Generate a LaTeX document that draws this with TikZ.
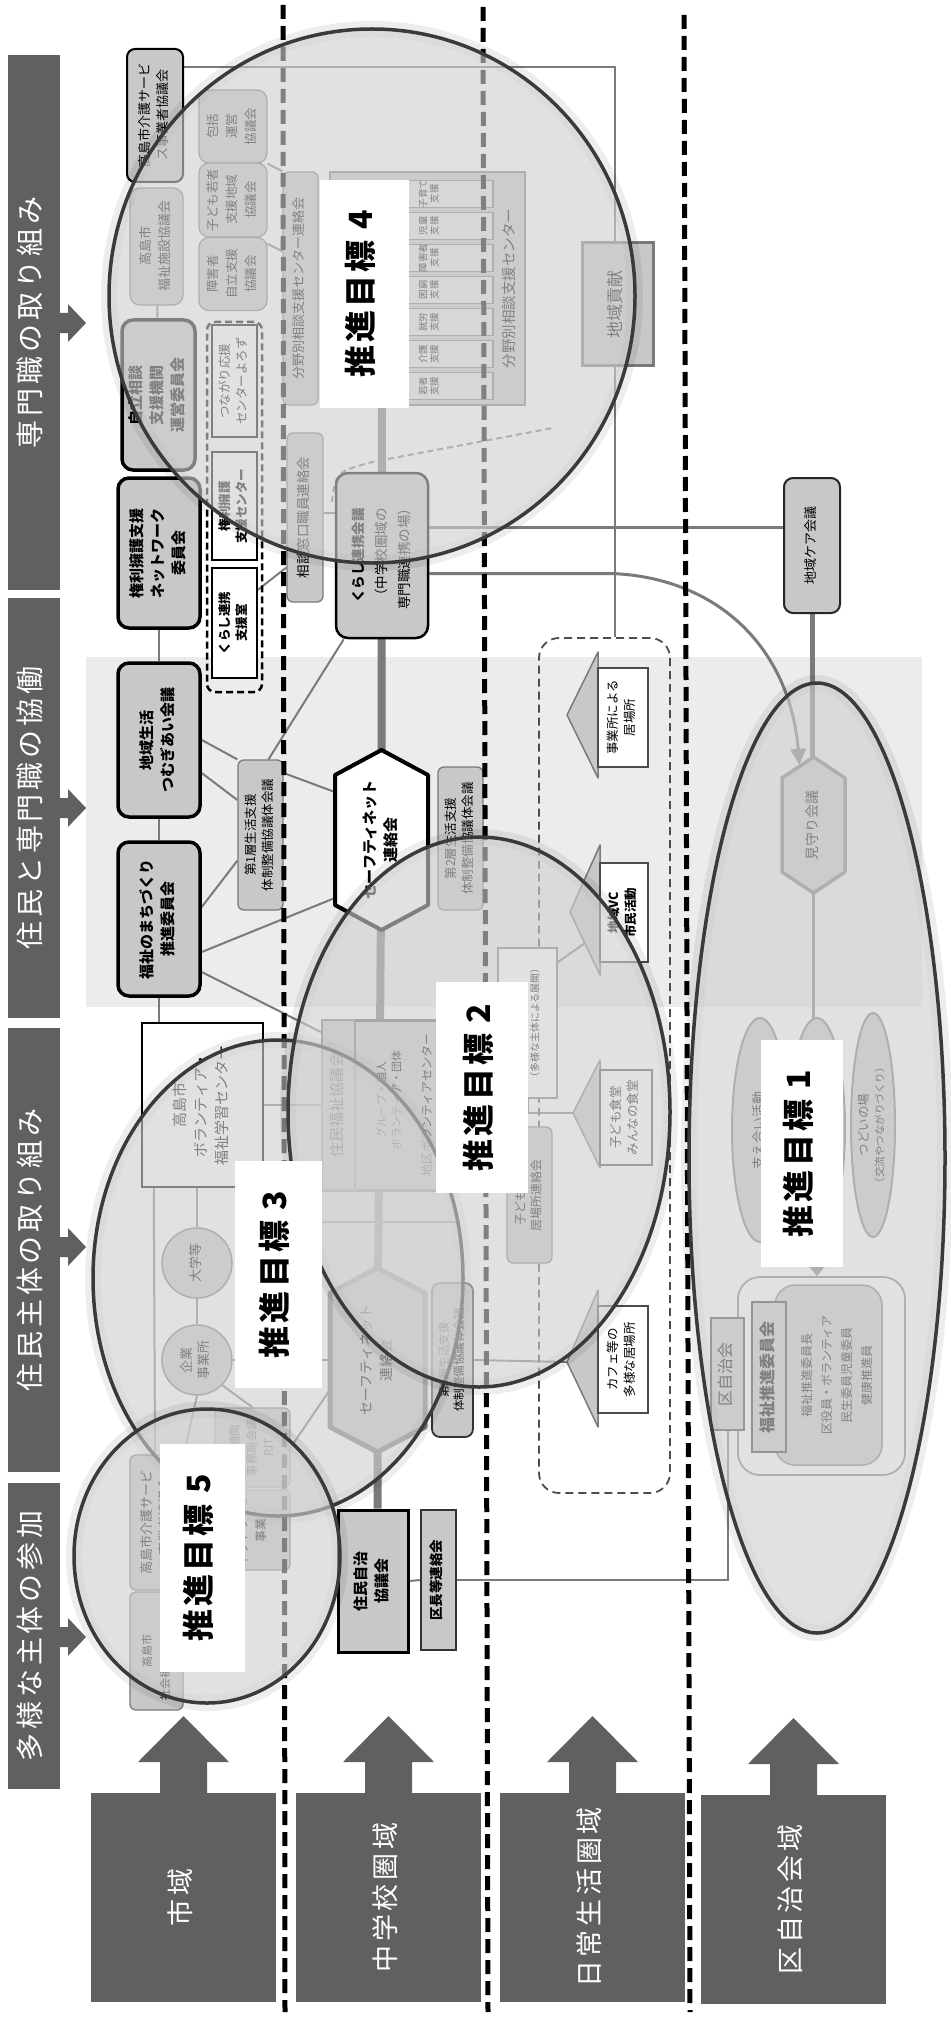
\documentclass[tikz,border=0pt]{standalone}
\usepackage{fontspec}
\usepackage{graphicx}
\setmainfont{Noto Sans CJK JP}
\newfontfamily\jpsp[LetterSpace=14]{Noto Sans CJK JP}
\newfontfamily\jplab[LetterSpace=10]{Noto Sans CJK JP}
\usetikzlibrary{shapes.geometric,calc,arrows.meta}
\pgfdeclarelayer{back}\pgfdeclarelayer{lines}\pgfdeclarelayer{ov}\pgfdeclarelayer{lab}
\pgfsetlayers{back,lines,main,ov,lab}
\definecolor{barc}{HTML}{606060}
\definecolor{nfill}{HTML}{C8C8C8}
\definecolor{lnc}{HTML}{7A7A7A}
\definecolor{bandc}{HTML}{ECECEC}
\definecolor{cfill}{HTML}{D0D0D0}
\definecolor{cdraw}{HTML}{3A3A3A}
\newcommand\rtxt[1]{\rotatebox{90}{\begin{tabular}{@{}c@{}}#1\end{tabular}}}
\newcommand\fsz[2]{\fontsize{#1}{#2}\selectfont}
\newcommand\rarr[1]{\fill[barc, shift={(0,#1)}] (59,-10) -- (68,-10) -- (68,-19) -- (86,0) -- (68,19) -- (68,10) -- (59,10) -- cycle;}
\newcommand\uarr[2]{\fill[barc, shift={(#1,#2)}] (-23.5,0) -- (-23.5,-32) -- (-45.5,-32) -- (0,-78) -- (45.5,-32) -- (23.5,-32) -- (23.5,0) -- cycle;}
\tikzset{
 barbox/.style={fill=barc, text=white, inner sep=0pt, minimum width=52pt, font=\fsz{28}{34}\jpsp},
 bbox/.style={fill=barc, text=white, inner sep=0pt, minimum width=185pt, minimum height=209pt, font=\fsz{27}{32}\jpsp},
 gb/.style={draw=lnc, fill=nfill, line width=1.3pt, rounded corners=6pt, inner sep=0pt, font=\fsz{12.5}{19}},
 kb/.style={draw=black, fill=nfill, line width=3.5pt, rounded corners=11pt, inner sep=0pt, font=\bfseries\fsz{15}{21}},
 wb/.style={draw=black, fill=white, line width=1.3pt, inner sep=0pt, font=\fsz{12.5}{17}},
 rowbox/.style={draw=lnc, fill=nfill!50!white, line width=1.2pt, minimum width=158pt, minimum height=27pt, inner sep=0pt},
 rowtxt/.style={inner sep=0pt, font=\fsz{9.5}{11}},
 ln/.style={draw=lnc, line width=2pt},
 ln2/.style={draw=lnc, line width=3pt},
 thk/.style={draw=lnc, line width=8pt},
 lbl/.style={fill=white, inner sep=0pt, font=\bfseries\fsz{32}{36}\jplab},
 reg/.style={draw=black, line width=5pt, dash pattern=on 14pt off 7pt},
 tri/.style={fill=nfill, draw=lnc, line width=1.5pt, line join=round},
 ell/.style={ellipse, draw=lnc, line width=2pt, inner sep=0pt},
 rnd/.style={circle, draw=lnc, fill=nfill, line width=1.5pt, minimum size=70pt, inner sep=0pt, font=\fsz{13}{17}},
}
\begin{document}
\begin{tikzpicture}[x=1pt,y=-1pt]
\useasboundingbox (0,0) rectangle (950,2017);
\begin{pgfonlayer}{back}
\fill[white] (0,0) rectangle (950,2017);
\fill[bandc] (86,657) rectangle (922,1007);
\end{pgfonlayer}

% left bars
\node[barbox, minimum height=535pt] (barA) at (34,322.5) {\rtxt{専門職の取り組み}};
\node[barbox, minimum height=420pt] (barB) at (34,808) {\rtxt{住民と専門職の協働}};
\node[barbox, minimum height=444pt] (barC) at (34,1250) {\rtxt{住民主体の取り組み}};
\node[barbox, minimum height=306pt] (barD) at (34,1636) {\rtxt{多様な主体の参加}};
\rarr{323}\rarr{808}\rarr{1247}\rarr{1637}

% bottom boxes
\node[bbox] (shiiki) at (183.5,1897.5) {\rtxt{市域}};
\node[bbox] (chugaku) at (388.5,1897.5) {\rtxt{中学校圏域}};
\node[bbox] (nichijo) at (592.5,1897.5) {\rtxt{日常生活圏域}};
\node[bbox] (kuiki) at (793.5,1899.5) {\rtxt{区自治会域}};
\uarr{183.5}{1794}\uarr{388.5}{1794}\uarr{592.5}{1794}\uarr{793.5}{1796}

% column 1
\node[gb, draw=black, line width=2pt, rounded corners=8pt, minimum width=56pt, minimum height=133pt, font=\fsz{13}{18}] (kaigo) at (155,115.5) {\rtxt{高島市介護サービ\\ス事業者協議会}};
\node[gb, rounded corners=10pt, minimum width=68pt, minimum height=73pt] (houkatsu) at (233,126.5) {\rtxt{包括\\運営\\協議会}};
\node[gb, rounded corners=10pt, minimum width=68pt, minimum height=74pt] (kodomo) at (233,200) {\rtxt{子ども若者\\支援地域\\協議会}};
\node[gb, rounded corners=10pt, minimum width=68pt, minimum height=73pt] (shogai) at (233,274) {\rtxt{障害者\\自立支援\\協議会}};
\node[gb, rounded corners=10pt, minimum width=53pt, minimum height=117pt, font=\fsz{13}{19}] (shisetsu) at (156.5,246.5) {\rtxt{高島市\\福祉施設協議会}};
\node[kb, minimum width=73pt, minimum height=150pt] (jiritsu) at (158.5,395) {\rtxt{自立相談\\支援機関\\運営委員会}};
\node[draw=black, line width=2.5pt, dash pattern=on 7pt off 4pt, rounded corners=8pt, minimum width=55pt, minimum height=370pt, inner sep=0pt] (dashb) at (234.5,507) {};
\node[wb, minimum width=45pt, minimum height=112pt] (tsunagari) at (234.5,381) {\rtxt{つながり応援\\センターよろず}};
\node[wb, font=\bfseries\fsz{12.5}{17}, minimum width=45pt, minimum height=108pt] (kenric) at (234.5,506) {\rtxt{権利擁護\\支援センター}};
\node[wb, font=\bfseries\fsz{12.5}{17}, minimum width=45pt, minimum height=110pt] (kurashis) at (234.5,623) {\rtxt{くらし連携\\支援室}};
\node[kb, minimum width=82pt, minimum height=150pt] (kenrin) at (159,553) {\rtxt{権利擁護支援\\ネットワーク\\委員会}};
\node[kb, minimum width=82pt, minimum height=154pt] (chiiki) at (159,740) {\rtxt{地域生活\\つむぎあい会議}};
\node[kb, minimum width=82pt, minimum height=154pt] (machi) at (159,919) {\rtxt{福祉のまちづくり\\推進委員会}};
\node[draw=black, fill=white, line width=2.5pt, inner sep=0pt, minimum width=121pt, minimum height=164pt, font=\fsz{15}{21}] (volc) at (202.5,1105) {\rtxt{高島市\\ボランティア・\\福祉学習センター}};
\node[rnd] (daigaku) at (197,1263) {\rtxt{大学等}};
\node[rnd] (kigyo) at (197,1360) {\rtxt{企業\\事業所}};
\node[gb, minimum width=75pt, minimum height=79pt, font=\fsz{11.5}{17}] (pjt) at (252.5,1447.5) {\rtxt{関係機関\\事務局会議\\PJT}};
\node[gb, minimum width=75pt, minimum height=80pt, font=\fsz{12}{18}] (netj) at (252.5,1530) {\rtxt{ネットワーク\\事業}};
\node[gb, minimum width=53pt, minimum height=135pt, font=\fsz{13}{18}] (kaigo2) at (156.5,1522.5) {\rtxt{高島市介護サービ\\ス事業者協議会}};
\node[gb, minimum width=53pt, minimum height=118pt, font=\fsz{11}{18}] (shakai) at (156.5,1651) {\rtxt{高島市\\社会福祉法人連絡会}};

% column 2
\node[gb, minimum width=35pt, minimum height=233pt, font=\fsz{13}{17}] (bunyar) at (300.5,288.5) {\rtxt{分野別相談支援センター連絡会}};
\node[draw=lnc, fill=nfill, line width=1.5pt, inner sep=0pt, minimum width=195pt, minimum height=233pt] (bunya) at (427.5,288.5) {};
\node[rowbox] (r1) at (414,194) {};
\node[rowbox] (r2) at (414,226) {};
\node[rowbox] (r3) at (414,258) {};
\node[rowbox] (r4) at (414,290) {};
\node[rowbox] (r5) at (414,322) {};
\node[rowbox] (r6) at (414,354) {};
\node[rowbox] (r7) at (414,386) {};
\node[rowtxt] (rt1) at (430,194) {\rtxt{子育て\\支援}};
\node[rowtxt] (rt2) at (430,226) {\rtxt{児童\\支援}};
\node[rowtxt] (rt3) at (430,258) {\rtxt{障害者\\支援}};
\node[rowtxt] (rt4) at (430,290) {\rtxt{困窮\\支援}};
\node[rowtxt] (rt5) at (430,322) {\rtxt{就労\\支援}};
\node[rowtxt] (rt6) at (430,354) {\rtxt{介護\\支援}};
\node[rowtxt] (rt7) at (430,386) {\rtxt{若者\\支援}};
\node[inner sep=0pt, font=\fsz{14.5}{18}] (bunyal) at (511,288.5) {\rtxt{分野別相談支援センター}};
\node[gb, minimum width=36pt, minimum height=169pt, font=\fsz{13.5}{17}] (soudan) at (305,517.5) {\rtxt{相談窓口職員連絡会}};
\node[gb, draw=black, line width=2.5pt, rounded corners=12pt, minimum width=92pt, minimum height=165pt, font=\fsz{13.5}{23}] (kurashi) at (382,555.5) {\rtxt{\textbf{くらし連携会議}\\（中学校圏域の\\専門職連携の場）}};
\filldraw[fill=white, draw=black, line width=4pt, line join=round] (381.5,750) -- (428,775) -- (428,905) -- (381.5,930) -- (335,905) -- (335,775) -- cycle;
\node[inner sep=0pt, minimum width=93pt, minimum height=180pt, font=\bfseries\fsz{15}{21}] (safe1) at (381.5,840) {\rtxt{セーフティネット\\連絡会}};
\node[gb, minimum width=45pt, minimum height=150pt, font=\fsz{12.5}{17}] (dai1) at (260.5,835) {\rtxt{第1層生活支援\\体制整備協議体会議}};
\node[gb, minimum width=45pt, minimum height=143pt, font=\fsz{12.5}{17}] (dai2) at (460.5,838.5) {\rtxt{第2層生活支援\\体制整備協議体会議}};
\node[draw=lnc!80!black, fill=nfill, line width=3pt, inner sep=0pt, minimum width=126pt, minimum height=170pt] (chiku) at (385,1105) {};
\node[draw=lnc, fill=nfill, line width=1.5pt, inner sep=0pt, minimum width=33pt, minimum height=170pt, font=\fsz{15}{18}] (juminf) at (338.5,1105) {\rtxt{住民福祉協議会}};
\node[inner sep=0pt, font=\fsz{11}{15}] (chikuin) at (390,1100) {\rtxt{グループ・個人\\ボランティア・団体}};
\node[inner sep=0pt, font=\fsz{12}{15}] (chikul) at (428,1105) {\rtxt{地区ボランティアセンター}};
\filldraw[fill=nfill, draw=lnc, line width=5pt, line join=round] (377.5,1268) -- (425,1293) -- (425,1427) -- (377.5,1452) -- (330,1427) -- (330,1293) -- cycle;
\node[inner sep=0pt, minimum width=95pt, minimum height=184pt, font=\fsz{14}{20}] (safe2) at (377.5,1360) {\rtxt{セーフティネット\\連絡会}};
\node[gb, draw=black!80, line width=1.8pt, rounded corners=8pt, minimum width=41pt, minimum height=154pt, font=\fsz{11.5}{15}] (dai3) at (452.5,1360) {\rtxt{第3層生活支援\\体制整備協議体会議}};
\node[gb, draw=black, line width=3pt, rounded corners=0pt, minimum width=70pt, minimum height=142pt, font=\bfseries\fsz{15}{21}] (jjichi) at (373,1581) {\rtxt{住民自治\\協議会}};
\node[gb, draw=black!80, line width=2.5pt, rounded corners=0pt, minimum width=35pt, minimum height=140pt, font=\bfseries\fsz{13.5}{17}] (kucho) at (438.5,1580) {\rtxt{区長等連絡会}};

% column 3
\node[draw=black!70, line width=1.8pt, dash pattern=on 8pt off 5pt, rounded corners=20pt, inner sep=0pt, minimum width=131pt, minimum height=855pt] (dbox) at (604.5,1065.5) {};
\filldraw[tri] (567,715) -- (598,652) -- (598,778) -- cycle;
\node[wb, draw=black!70, minimum width=50pt, minimum height=99pt] (jigyo) at (623,717.5) {\rtxt{事業所による\\居場所}};
\filldraw[tri] (570,912) -- (600,845) -- (600,975) -- cycle;
\node[wb, draw=black!70, minimum width=48pt, minimum height=99pt, font=\bfseries\fsz{12.5}{17}] (vc) at (624,912.5) {\rtxt{地域VC\\市民活動}};
\node[draw=lnc, fill=white, line width=2pt, inner sep=0pt, minimum width=59pt, minimum height=150pt, font=\fsz{10}{15}] (ibasho) at (527.5,1023) {\rtxt{{\fsz{14}{18}居場所}\\（多様な主体による展開）}};
\filldraw[tri] (573,1113) -- (600,1060) -- (600,1168) -- cycle;
\node[wb, draw=black!70, minimum width=52pt, minimum height=95pt] (kodomos) at (626,1117.5) {\rtxt{子ども食堂\\みんなの食堂}};
\node[gb, minimum width=45pt, minimum height=136pt, font=\fsz{12}{16}] (kodomor) at (529.5,1195) {\rtxt{子ども食堂\\居場所連絡会}};
\filldraw[tri] (567,1362) -- (598,1290) -- (598,1427) -- cycle;
\node[wb, draw=black!70, minimum width=50pt, minimum height=107pt] (cafe) at (623,1359.5) {\rtxt{カフェ等の\\多様な居場所}};
\node[gb, draw=black!85, line width=2pt, rounded corners=9pt, minimum width=56pt, minimum height=135pt, font=\fsz{13}{17}] (care) at (812,545.5) {\rtxt{地域ケア会議}};
\node[draw=lnc, fill=nfill, line width=3pt, inner sep=0pt, minimum width=71pt, minimum height=122pt, font=\fsz{17}{20}] (kouken) at (617.5,304) {\rtxt{地域貢献}};

% column 4
\filldraw[fill=nfill, draw=lnc, line width=3.5pt, line join=round] (813.5,757) -- (845,778) -- (845,872) -- (813.5,893) -- (782,872) -- (782,778) -- cycle;
\node[inner sep=0pt, minimum width=63pt, minimum height=136pt, font=\fsz{14}{18}] (mimamori) at (813.5,825) {\rtxt{見守り会議}};
\node[ell, fill=nfill, minimum width=56pt, minimum height=224pt, font=\fsz{13}{17}] (sasae) at (760,1130) {\rtxt{支え合い活動}};
\node[ell, fill=nfill, minimum width=56pt, minimum height=220pt] (midell) at (817,1128) {};
\node[ell, fill=nfill, minimum width=44pt, minimum height=224pt, font=\fsz{12.5}{15}] (tsudoi) at (873,1125) {\rtxt{つどいの場\\{\fsz{10.5}{13}（交流やつながりづくり）}}};
\node[draw=lnc, line width=1.8pt, rounded corners=22pt, inner sep=0pt, minimum width=167pt, minimum height=198pt] (kuouter) at (821.5,1376) {};
\node[draw=lnc, fill=nfill, line width=1.5pt, rounded corners=20pt, inner sep=0pt, minimum width=107pt, minimum height=180pt] (members) at (828.5,1375) {};
\node[inner sep=0pt, font=\fsz{12}{20}] (memtxt) at (837,1375) {\rtxt{福祉推進委員長\\区役員・ボランティア\\民生委員児童委員\\健康推進員}};
\node[gb, draw=black!75, line width=2.5pt, rounded corners=0pt, minimum width=33pt, minimum height=112pt, font=\fsz{16}{18}] (kujichi) at (727.5,1374) {\rtxt{区自治会}};
\node[gb, draw=black!80, line width=2.5pt, rounded corners=0pt, minimum width=34pt, minimum height=150pt, font=\bfseries\fsz{16}{18}] (fsuishin) at (769,1377) {\rtxt{福祉推進委員会}};

% region dividers
\draw[reg] (283,5) -- (285,2012);
\draw[reg] (483,7) -- (488,2012);
\draw[reg] (684,15) -- (690,2012);

% connectors
\coordinate (tc) at (615,67);
\coordinate (cv1) at (612,573.5);
\coordinate (dz) at (553,428);
\coordinate (apK) at (573,1113);
\coordinate (apC) at (567,1362);
\coordinate (h1) at (460,1222);
\begin{pgfonlayer}{lines}
\draw[ln] (kaigo.east |- tc) -- (tc) -- (tc |- dbox.north);
\draw[ln] (houkatsu.south east) -- (bunyar.north west);
\draw[ln] ($(shogai.north east)+(0,7)$) -- ($(bunyar.north west)+(0,80)$);
\draw[ln] (shisetsu) -- (jiritsu);
\draw[ln] (kenrin) -- (chiiki);
\draw[ln] (chiiki) -- (machi);
\draw[ln] (machi.south) -- (machi.south |- volc.north);
\draw[ln] (chiiki.east) -- (dai1.north west);
\draw[ln] ($(chiiki.east)+(0,33)$) -- ($(dai1.west)+(0,-35)$);
\draw[ln] ($(dai1.east)+(0,-62)$) -- ($(safe1.west)+(0,-48)$);
\draw[ln] ($(kurashi.south west)+(9,0)$) -- ($(dai1.north)+(8,0)$);
\draw[ln] ($(kurashis.east)+(0,-33)$) -- ($(soudan.west)+(0,50)$);
\draw[ln] ($(machi.east)+(0,-12)$) -- ($(dai1.south west)+(0,-50)$);
\draw[ln] ($(machi.east)+(0,33)$) -- ($(safe1.west)+(0,58)$);
\draw[ln] ($(machi.east)+(0,53)$) -- ($(juminf.north west)+(0,13)$);
\draw[ln] ($(soudan.east)+(0,-5)$) -- ($(kurashi.west)+(0,-43)$);
\draw[thk] (kurashi.north |- bunya.south) -- (safe1.center) -- (safe2.center) -- (safe2.center |- jjichi.north);
\draw[ln2] ($(kurashi.east)+(0,-28)$) coordinate (p1) -- (p1 -| care.west);
\draw[ln2, -{Triangle[length=16pt,width=15pt]}] ($(kurashi.east)+(0,18)$) -- (cv1) .. controls (720,578) and (790,650) .. ($(mimamori.north)+(-14,8)$);
\draw[draw=lnc, line width=5pt] (care.south) -- (care.south |- mimamori.north);
\draw[ln2] (mimamori.south) -- (mimamori.south |- midell.center);
\draw[ln2, -{Triangle[length=14pt,width=22pt]}] (midell.south) -- (midell.south |- kuouter.north);
\draw[ln] (kujichi.south) |- (kucho.east);
\draw[ln] (jjichi.east) -- (kucho.west);
\draw[ln, dash pattern=on 6pt off 4pt] ($(kurashi.north west)+(-3,30)$) .. controls (336,472) .. (372,462) -- (dz);
\draw[ln] ($(ibasho.north east)+(0,15)$) -- ($(vc.west)+(-15,31)$);
\draw[ln] (ibasho.south) |- (apK);
\draw[ln] (dai3.east) -- (apC);
\draw[ln] ($(volc.south west)+(13,0)$) -- ($(kaigo2.north)+(-1.5,0)$);
\draw[ln] (daigaku.north) -- (daigaku.north |- volc.south);
\draw[ln] (daigaku) -- (kigyo);
\draw[ln] ($(volc.east)+(0,117)$) -- (h1);
\draw[ln] (volc.east) -- (juminf.west);
\draw[ln] (kigyo.east) -- (safe2.west);
\draw[ln] ($(safe2.west)+(0,30)$) -- (pjt.east);
\draw[ln] (kigyo.south east) -- (pjt.north);
\draw[ln] (kigyo.south) -- (kaigo2.north east);
\end{pgfonlayer}

% target circles
\begin{pgfonlayer}{ov}
\foreach \cx/\cy/\rx/\ry in {372/296/263/267, 278/1278/185/238, 479/1112/191/275, 207/1556/133/147, 817/1158/128/475} {
  \draw[black, opacity=0.07, line width=16pt] (\cx,\cy) ellipse [x radius=\rx, y radius=\ry];
  \fill[cfill, fill opacity=0.62] (\cx,\cy) ellipse [x radius=\rx, y radius=\ry];
  \draw[cdraw, line width=3.5pt] (\cx,\cy) ellipse [x radius=\rx, y radius=\ry];
}
\end{pgfonlayer}

\begin{pgfonlayer}{lab}
\node[lbl, minimum width=89pt, minimum height=228pt] (g4) at (364.5,294) {\rtxt{推進目標 4}};
\node[lbl, minimum width=92pt, minimum height=211pt] (g2) at (482,1087.5) {\rtxt{推進目標 2}};
\node[lbl, minimum width=87pt, minimum height=227pt] (g3) at (278.5,1274.5) {\rtxt{推進目標 3}};
\node[lbl, minimum width=85pt, minimum height=228pt] (g5) at (202.5,1558) {\rtxt{推進目標 5}};
\node[lbl, minimum width=82pt, minimum height=227pt] (g1) at (802,1153.5) {\rtxt{推進目標 1}};
\end{pgfonlayer}
\end{tikzpicture}
\end{document}
